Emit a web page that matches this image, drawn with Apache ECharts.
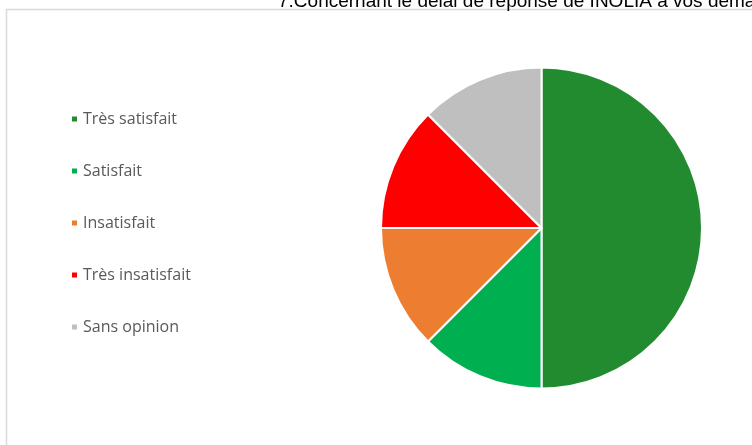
<!DOCTYPE html>
<html><head><meta charset="utf-8">
<script src="https://cdn.jsdelivr.net/npm/echarts@6/dist/echarts.min.js"></script>
<style>html,body{margin:0;padding:0;background:#fff}#c{width:752px;height:445px}</style>
</head><body><div id="c"></div>
<script>
const titleText = "7.Concernant le délai de réponse de INOLIA à vos demandes";
const categories = ["Très satisfait", "Satisfait", "Insatisfait", "Très insatisfait", "Sans opinion"];
const values = [4, 1, 1, 1, 1];
const colors = ["#228B2F", "#00B050", "#ED7D31", "#FF0000", "#BFBFBF"];

const chart = echarts.init(document.getElementById('c'), null, {renderer: 'canvas'});
chart.setOption({
  animation: false,
  backgroundColor: '#fff',
  title: {
    text: titleText, left: 278, top: -8, padding: 0,
    textStyle: {fontFamily: 'Liberation Sans, Arial', fontSize: 19, fontWeight: 'normal', color: '#000'}
  },
  graphic: [{
    type: 'rect', silent: true, z: -1,
    shape: {x: 6.5, y: 9.5, width: 800, height: 500},
    style: {fill: 'none', stroke: '#d9d9d9', lineWidth: 1.5}
  }],
  legend: {
    orient: 'vertical', left: 70, top: 111, padding: 0,
    itemWidth: 7, itemHeight: 7, itemGap: 36, icon: 'rect',
    textStyle: {fontFamily: 'Open Sans', fontSize: 16, color: '#595959', lineHeight: 16},
    data: categories
  },
  series: [{
    type: 'pie', center: [541.5, 228], radius: [0, 160.5], startAngle: 90, clockwise: true,
    label: {show: false}, labelLine: {show: false},
    itemStyle: {borderColor: '#fff', borderWidth: 2},
    emphasis: {disabled: true},
    data: categories.map((n, i) => ({name: n, value: values[i], itemStyle: {color: colors[i]}}))
  }]
});
</script></body></html>
